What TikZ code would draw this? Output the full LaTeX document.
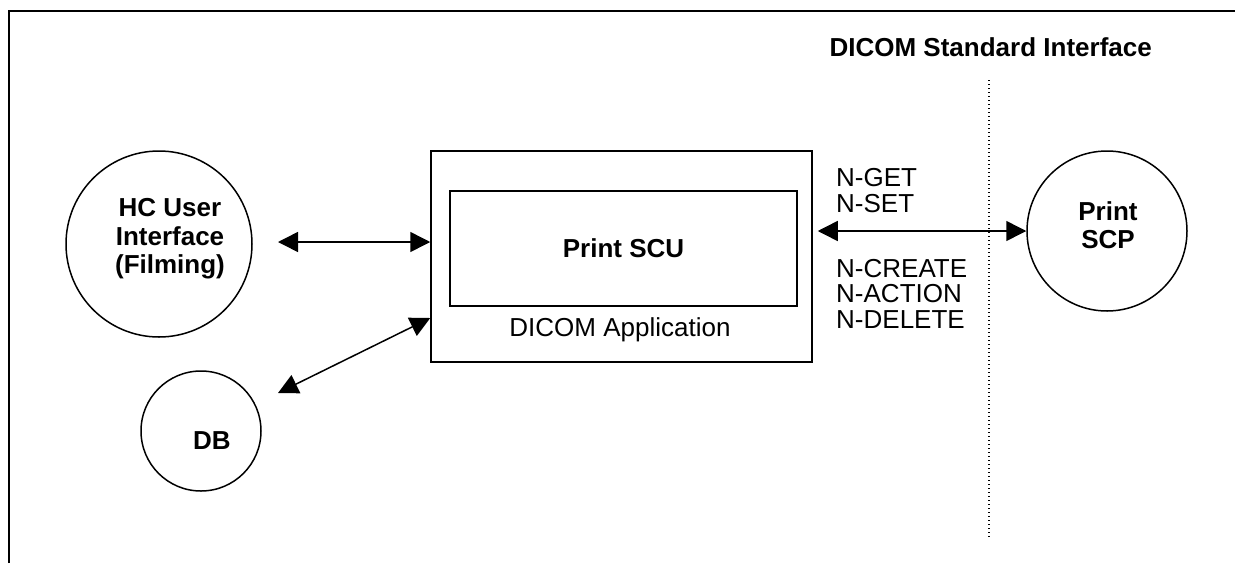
\documentclass[tikz,border=0pt]{standalone}
\usepackage{fontspec}
\setmainfont{Liberation Sans}
\usetikzlibrary{arrows.meta}
\begin{document}
\begin{tikzpicture}[x=1pt,y=-1pt,
  txt/.style={font=\fontsize{26}{25.5}\selectfont, inner sep=0pt},
  btxt/.style={font=\fontsize{26}{28.5}\selectfont\bfseries, inner sep=0pt, align=center},
  ln/.style={line width=1.5pt},
  dbl/.style={ln, {Triangle[length=20pt,width=20pt]}-{Triangle[length=20pt,width=20pt]}},
  circ/.style={draw, circle, ln, minimum size=#1, inner sep=0pt},
  boxn/.style={draw, ln, inner sep=0pt},
  lbl/.style={txt, align=left, anchor=west},
]
\useasboundingbox (0,0) rectangle (1235,563);
% frame
\draw[line width=2.5pt] (9,563) -- (9,11) -- (1235,11);
% title
\node[btxt, anchor=east] (title) at (1152,47) {DICOM Standard Interface};
% dotted interface line
\coordinate (dt) at (989,80);
\coordinate (db) at (989,538);
\draw[line width=1.3pt, dash pattern=on 1.3pt off 2.7pt] (dt) -- (db);
% application box
\node[boxn, minimum width=381pt, minimum height=211pt] (app) at (621.5,256.5) {};
\node[boxn, btxt, minimum width=347pt, minimum height=115pt] (scu) at (623.5,248.5) {Print SCU};
\node[txt] (applbl) at (620,330) {DICOM Application};
% circles
\node[circ=186pt] (hc) at (159,244) {};
\node[btxt] (hctext) at (170,239) {HC User\\Interface\\(Filming)};
\node[circ=120pt] (dbc) at (201,431) {};
\node[btxt] (dbtext) at (212,441) {DB};
\node[circ=160pt] (scp) at (1107,231) {};
\node[btxt] (scptext) at (1108,225) {Print\\SCP};
% labels
\node[lbl] (l1) at (836,190.5) {N-GET\\N-SET};
\node[lbl] (l2) at (836,293.5) {N-CREATE\\N-ACTION\\N-DELETE};
% arrows
\coordinate (h1) at (278,242);
\draw[dbl] (h1) -- (app.west |- h1);
\coordinate (d1) at (278,393);
\coordinate (d2) at (app.west |- 0,318);
\draw[dbl] (d1) -- (d2);
\draw[dbl] ([xshift=5pt]app.east |- scp.west) -- (scp.west);
\end{tikzpicture}
\end{document}
